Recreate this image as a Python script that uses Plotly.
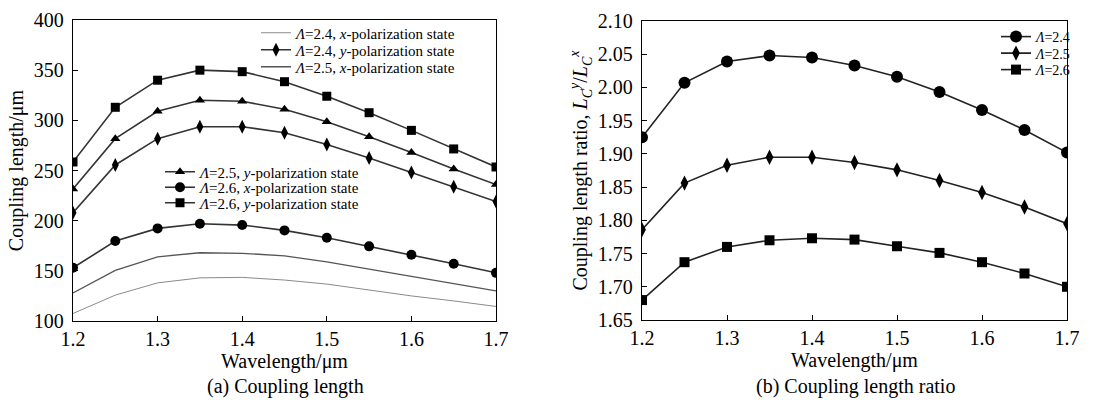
import plotly.graph_objects as go

wavelength = [1.2, 1.25, 1.3, 1.35, 1.4, 1.45, 1.5, 1.55, 1.6, 1.65, 1.7]

# (a) Coupling length (um)
L24x = [107.5, 125.8, 138.0, 143.0, 143.5, 140.8, 136.8, 130.8, 125.0, 120.0, 114.5]
L24y = [208.0, 255.5, 281.7, 293.6, 293.6, 287.7, 276.0, 262.4, 248.0, 233.8, 219.0]
L25x = [128.0, 150.4, 164.0, 168.0, 167.5, 165.0, 159.0, 151.7, 144.8, 137.5, 130.0]
L25y = [231.5, 281.7, 309.0, 320.0, 319.0, 311.0, 298.6, 283.7, 268.0, 251.5, 236.0]
L26x = [153.0, 179.7, 192.3, 197.0, 195.6, 190.3, 183.0, 174.4, 166.0, 157.0, 148.0]
L26y = [258.5, 313.0, 340.0, 350.0, 348.5, 338.5, 324.0, 307.6, 290.0, 271.5, 253.5]

# (b) Coupling length ratio
R24 = [1.925, 2.007, 2.039, 2.048, 2.045, 2.033, 2.016, 1.993, 1.966, 1.936, 1.902]
R25 = [1.786, 1.856, 1.883, 1.895, 1.895, 1.887, 1.876, 1.860, 1.842, 1.820, 1.795]
R26 = [1.680, 1.737, 1.760, 1.770, 1.773, 1.771, 1.761, 1.751, 1.737, 1.720, 1.700]

xticks = [1.2, 1.3, 1.4, 1.5, 1.6, 1.7]
yticks_a = [100, 150, 200, 250, 300, 350, 400]
yticks_b = [1.65, 1.70, 1.75, 1.80, 1.85, 1.90, 1.95, 2.00, 2.05, 2.10]

FONT = "Liberation Serif"
DARK = "#333333"
W, H = 1115, 400


def px_x(p):
    return p / W


def px_y(p):
    return 1 - p / H


fig = go.Figure()
legends = {}


def add(x, y, name, xa, ya, legend, color, width, symbol=None, msize=8,
        lx=0, ly=0, lsize=15):
    mode = "lines+markers" if symbol else "lines"
    fig.add_trace(go.Scatter(
        x=x, y=y, name=name, mode=mode, xaxis=xa, yaxis=ya, legend=legend,
        line=dict(color=color, width=width),
        marker=dict(symbol=symbol, size=msize, color="black") if symbol else None,
        showlegend=True))
    legends[legend] = dict(
        x=px_x(lx), y=px_y(ly), xanchor="left", yanchor="middle",
        font=dict(family=FONT, size=lsize, color="black"),
        bgcolor="rgba(0,0,0,0)", borderwidth=0, itemwidth=30)


add(wavelength, L24x, "<i>Λ</i>=2.4, <i>x</i>-polarization state", "x", "y", "legend",
    "#8a8a8a", 1, lx=256, ly=33)
add(wavelength, L24y, "<i>Λ</i>=2.4, <i>y</i>-polarization state", "x", "y", "legend2",
    DARK, 1.6, "diamond-tall", 10, lx=256, ly=50)
add(wavelength, L25x, "<i>Λ</i>=2.5, <i>x</i>-polarization state", "x", "y", "legend3",
    "#555555", 1.3, lx=256, ly=67)
add(wavelength, L25y, "<i>Λ</i>=2.5, <i>y</i>-polarization state", "x", "y", "legend4",
    DARK, 1.6, "triangle-up", 9, lx=160, ly=172)
add(wavelength, L26x, "<i>Λ</i>=2.6, <i>x</i>-polarization state", "x", "y", "legend5",
    DARK, 1.6, "circle", 10, lx=160, ly=187.5)
add(wavelength, L26y, "<i>Λ</i>=2.6, <i>y</i>-polarization state", "x", "y", "legend6",
    DARK, 1.6, "square", 9, lx=160, ly=203)

add(wavelength, R24, "<i>Λ</i>=2.4", "x2", "y2", "legend7", "#222222", 1.6, "circle", 12,
    lx=996, ly=37, lsize=14)
add(wavelength, R25, "<i>Λ</i>=2.5", "x2", "y2", "legend8", "#222222", 1.6, "diamond-tall", 11,
    lx=996, ly=53.5, lsize=14)
add(wavelength, R26, "<i>Λ</i>=2.6", "x2", "y2", "legend9", "#222222", 1.6, "square", 10,
    lx=996, ly=70, lsize=14)

axis_common = dict(
    showline=True, linecolor="black", linewidth=1.3, mirror=True,
    ticks="inside", ticklen=5, tickcolor="black", tickwidth=1,
    showgrid=False, zeroline=False, automargin=False,
    tickfont=dict(family=FONT, size=20, color="black"),
)
title_font = dict(family=FONT, size=20, color="black")

fig.update_layout(
    width=W, height=H,
    margin=dict(l=0, r=0, t=0, b=0),
    paper_bgcolor="white", plot_bgcolor="white",
    font=dict(family=FONT, color="black"),
    xaxis=dict(domain=[px_x(73), px_x(496)], range=[1.2, 1.7], tickvals=xticks,
               ticktext=[f"{v:.1f}" for v in xticks], anchor="y",
               title=dict(text="Wavelength/μm", font=title_font, standoff=2),
               **axis_common),
    yaxis=dict(domain=[px_y(321), px_y(20)], range=[100, 400], tickvals=yticks_a,
               anchor="x", ticklabelstandoff=4,
               title=dict(text="Coupling length/μm", font=title_font, standoff=4),
               **axis_common),
    xaxis2=dict(domain=[px_x(642), px_x(1067)], range=[1.2, 1.7], tickvals=xticks,
                ticktext=[f"{v:.1f}" for v in xticks], anchor="y2",
                title=dict(text="Wavelength/μm", font=title_font, standoff=2),
                **axis_common),
    yaxis2=dict(domain=[px_y(320), px_y(21)], range=[1.65, 2.10], tickvals=yticks_b,
                ticktext=[f"{v:.2f}" for v in yticks_b], anchor="x2", ticklabelstandoff=4,
                title=dict(text="Coupling length ratio, <i>L</i><sub><i>C</i></sub><sup><i>y</i></sup>/<i>L</i><sub><i>C</i></sub><sup><i>x</i></sup>",
                           font=title_font, standoff=4),
                **axis_common),
    annotations=[
        dict(text="(a) Coupling length", x=px_x(285), y=px_y(386), xref="paper", yref="paper",
             xanchor="center", yanchor="middle", showarrow=False,
             font=dict(family=FONT, size=20, color="black")),
        dict(text="(b) Coupling length ratio", x=px_x(855), y=px_y(386), xref="paper", yref="paper",
             xanchor="center", yanchor="middle", showarrow=False,
             font=dict(family=FONT, size=20, color="black")),
    ],
    **legends,
)

fig.write_html("out.html")
